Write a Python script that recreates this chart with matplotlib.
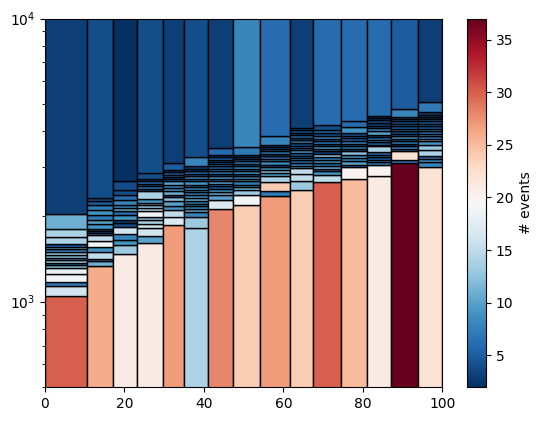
import numpy as np
import matplotlib
matplotlib.use('Agg')
import matplotlib.pyplot as plt
from matplotlib.colors import Normalize
from matplotlib.cm import ScalarMappable

# column (x) bin edges
x_edges = [0, 10.6, 17.2, 23.2, 29.7, 35.0, 41.1, 47.4, 54.2, 61.6, 67.5, 74.5, 81.0, 87.1, 93.9, 100]

# inner y bin edges per column (ascending) and event counts per bin (bottom -> top)
col1_edges = [1044, 1133, 1177, 1249, 1318, 1347, 1373, 1399, 1430, 1457, 1497, 1529, 1559, 1593, 1690, 1799, 2043]
col1_counts = [30, 16, 7, 19, 18, 12, 6, 13, 9, 12, 13, 8, 12, 5, 14, 14, 11, 3]
col2_edges = [1333, 1395, 1418, 1493, 1556, 1634, 1715, 1748, 1781, 1811, 1880, 1937, 2018, 2101, 2188, 2273, 2322]
col2_counts = [26, 11, 7, 15, 9, 19, 15, 7, 4, 4, 9, 10, 7, 9, 7, 5, 4, 4]
col3_edges = [1477, 1590, 1656, 1734, 1830, 1896, 1948, 2029, 2084, 2141, 2200, 2291, 2386, 2485, 2674]
col3_counts = [21, 13, 9, 8, 16, 4, 3, 9, 6, 11, 8, 8, 6, 4, 4, 2]
col4_edges = [1607, 1701, 1820, 1886, 1937, 1985, 2096, 2141, 2188, 2230, 2310, 2452, 2499, 2553, 2603, 2660, 2711, 2846]
col4_counts = [21, 10, 16, 16, 14, 12, 19, 14, 13, 11, 9, 14, 5, 7, 4, 6, 3, 4, 4]
col5_edges = [1865, 1991, 2113, 2171, 2261, 2341, 2386, 2452, 2519, 2589, 2660, 2711, 2755, 2808, 2861, 2908, 3087]
col5_counts = [27, 17, 15, 9, 10, 12, 5, 11, 9, 8, 10, 6, 4, 7, 5, 3, 5, 3]
col6_edges = [1816, 1985, 2067, 2124, 2171, 2218, 2261, 2322, 2386, 2432, 2485, 2539, 2589, 2660, 2718, 2770, 2831, 2885, 2940, 3004, 3241]
col6_counts = [14, 13, 8, 10, 8, 9, 7, 11, 9, 7, 10, 8, 6, 9, 7, 8, 5, 6, 4, 3, 8, 4]
col7_edges = [2130, 2291, 2386, 2432, 2499, 2553, 2610, 2660, 2718, 2770, 2831, 2885, 2940, 3004, 3062, 3112, 3171, 3241, 3303, 3487]
col7_counts = [28, 17, 10, 11, 9, 5, 8, 10, 6, 9, 4, 7, 9, 5, 8, 6, 4, 5, 3, 6, 3]
col8_edges = [2200, 2386, 2485, 2539, 2589, 2660, 2711, 2770, 2823, 2885, 2940, 3004, 3070, 3129, 3188, 3241, 3303, 3516]
col8_counts = [24, 19, 13, 11, 9, 7, 10, 8, 5, 9, 6, 8, 5, 7, 5, 4, 3, 7, 8]
col9_edges = [2354, 2452, 2638, 2770, 2846, 2924, 2988, 3045, 3129, 3188, 3258, 3330, 3394, 3459, 3516, 3583, 3855]
col9_counts = [27, 7, 24, 14, 10, 12, 9, 5, 8, 9, 6, 4, 7, 5, 4, 3, 8, 6]
col10_edges = [2472, 2660, 2831, 2964, 3020, 3087, 3154, 3214, 3276, 3348, 3422, 3487, 3554, 3632, 3711, 3782, 3865, 3939, 4025, 4102]
col10_counts = [24, 13, 15, 15, 11, 8, 6, 10, 7, 5, 9, 6, 8, 4, 7, 5, 6, 3, 4, 3, 3]
col11_edges = [2653, 2808, 2885, 2940, 3020, 3087, 3171, 3241, 3330, 3394, 3459, 3535, 3612, 3681, 3752, 3855, 3939, 4025, 4215]
col11_counts = [30, 15, 9, 7, 11, 6, 9, 7, 13, 3, 6, 9, 4, 7, 5, 8, 4, 6, 4, 6]
col12_edges = [2718, 2988, 3045, 3129, 3214, 3303, 3394, 3459, 3535, 3612, 3691, 3772, 3855, 3939, 4136, 4342]
col12_counts = [25, 20, 7, 10, 8, 9, 12, 5, 7, 4, 8, 5, 6, 4, 9, 6, 6]
col13_edges = [2777, 3045, 3103, 3171, 3241, 3303, 3375, 3535, 3583, 3652, 3731, 3813, 3886, 3992, 4102, 4181, 4272, 4366, 4450, 4535]
col13_counts = [21, 20, 7, 9, 5, 8, 6, 14, 3, 5, 9, 6, 4, 10, 8, 5, 3, 4, 3, 2, 6]
col14_edges = [3095, 3171, 3394, 3459, 3535, 3603, 3681, 3752, 3834, 3918, 3992, 4069, 4158, 4249, 4330, 4413, 4486, 4787]
col14_counts = [37, 7, 22, 6, 8, 3, 7, 5, 9, 6, 4, 8, 5, 7, 4, 5, 3, 8, 5]
col15_edges = [2996, 3103, 3188, 3258, 3440, 3583, 3681, 3752, 3834, 3918, 3992, 4069, 4158, 4249, 4330, 4413, 4486, 4572, 4660, 5081]
col15_counts = [22, 8, 9, 6, 14, 13, 9, 12, 7, 10, 6, 9, 5, 8, 5, 6, 3, 4, 3, 7, 3]

y_edges = [col1_edges, col2_edges, col3_edges, col4_edges, col5_edges, col6_edges, col7_edges, col8_edges,
           col9_edges, col10_edges, col11_edges, col12_edges, col13_edges, col14_edges, col15_edges]
counts = [col1_counts, col2_counts, col3_counts, col4_counts, col5_counts, col6_counts, col7_counts, col8_counts,
          col9_counts, col10_counts, col11_counts, col12_counts, col13_counts, col14_counts, col15_counts]

y_min, y_max = 500, 1e4

all_counts = np.concatenate([np.array(c) for c in counts])
cmap = plt.get_cmap('RdBu_r')
norm = Normalize(vmin=all_counts.min(), vmax=all_counts.max())

fig = plt.figure(figsize=(5.42, 4.21), dpi=100)
ax = fig.add_axes([0.083, 0.081, 0.733, 0.875])
cax = fig.add_axes([0.862, 0.081, 0.0343, 0.875])

for i in range(len(x_edges) - 1):
    # outer bins run past the plotted range
    edges = np.concatenate([[y_min / 10], y_edges[i], [y_max * 10]])
    ax.bar(x_edges[i], np.diff(edges), width=x_edges[i + 1] - x_edges[i], bottom=edges[:-1],
           align='edge', color=cmap(norm(np.array(counts[i]))), edgecolor='black', linewidth=1.0)

ax.set_yscale('log')
ax.set_xlim(0, 100)
ax.set_ylim(y_min, y_max)

cb = fig.colorbar(ScalarMappable(norm=norm, cmap=cmap), cax=cax)
cb.set_label('# events')

fig.savefig('out.png', dpi=100)
